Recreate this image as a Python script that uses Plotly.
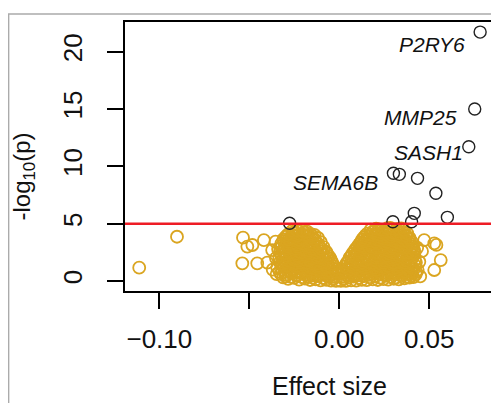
import plotly.graph_objects as go

# significant genes (black)
sig_x = [0.0783, 0.0753, 0.0720, 0.0301, 0.0334, 0.0435, 0.0537, 0.0417, 0.0402, 0.0298, 0.0601, -0.0276]
sig_y = [21.7, 15.0, 11.7, 9.39, 9.30, 8.95, 7.65, 5.9, 5.17, 5.17, 5.55, 5.03]
label_genes = ["P2RY6", "MMP25", "SASH1", "SEMA6B"]
label_idx = [0, 1, 2, 3]
label_shift = [(-13, -12), (-16, -9), (-4, -6), (-13, -9)]

# non-significant genes (gold)
ns_x = [
    -0.0312, -0.0284, -0.0251, -0.0223, -0.0190, -0.0162, -0.0131, -0.0104, -0.0072, -0.0046, -0.0018, 0.0009, 0.0037,
    0.0066, 0.0094, 0.0125, 0.0153, 0.0186, 0.0214, 0.0245, 0.0272, 0.0303, 0.0331, 0.0362, 0.0390, 0.0412,
    -0.0298, -0.0268, -0.0237, -0.0206, -0.0176, -0.0146, -0.0118, -0.0088, -0.0059, -0.0031, 0.0023, 0.0052,
    0.0080, 0.0110, 0.0139, 0.0170, 0.0200, 0.0229, 0.0259, 0.0289, 0.0317, 0.0347, 0.0376, 0.0401,
    -0.0325, -0.0297, -0.0266, -0.0238, -0.0207, -0.0176, -0.0148, -0.0117, -0.0089, -0.0058, -0.0030, 0.0021, 0.0050,
    0.0081, 0.0109, 0.0140, 0.0168, 0.0199, 0.0228, 0.0258, 0.0287, 0.0318, 0.0346, 0.0377, 0.0405, 0.0425,
    -0.0332, -0.0304, -0.0274, -0.0245, -0.0214, -0.0184, -0.0155, -0.0125, -0.0096, -0.0066, -0.0037, -0.0008, 0.0011,
    0.0040, 0.0072, 0.0101, 0.0133, 0.0162, 0.0192, 0.0221, 0.0251, 0.0280, 0.0311, 0.0340, 0.0369, 0.0398, 0.0428,
    -0.0318, -0.0289, -0.0259, -0.0230, -0.0199, -0.0170, -0.0140, -0.0111, -0.0081, -0.0052, -0.0022, 0.0024, 0.0057,
    0.0087, 0.0118, 0.0147, 0.0177, 0.0206, 0.0236, 0.0266, 0.0295, 0.0325, 0.0354, 0.0384, 0.0414,
    -0.0305, -0.0275, -0.0244, -0.0216, -0.0186, -0.0157, -0.0127, -0.0098, -0.0068, -0.0040, -0.0012, 0.0014, 0.0045,
    0.0075, 0.0105, 0.0134, 0.0165, 0.0194, 0.0225, 0.0254, 0.0283, 0.0314, 0.0344, 0.0372, 0.0403,
    -0.0322, -0.0293, -0.0262, -0.0234, -0.0203, -0.0174, -0.0145, -0.0115, -0.0086, -0.0057, -0.0027, 0.0033, 0.0063,
    0.0092, 0.0121, 0.0152, 0.0181, 0.0211, 0.0240, 0.0270, 0.0299, 0.0329, 0.0358, 0.0389, 0.0418,
    -0.0330, -0.0300, -0.0270, -0.0241, -0.0211, -0.0182, -0.0152, -0.0122, -0.0093, -0.0064, -0.0037, 0.0040, 0.0069,
    0.0098, 0.0128, 0.0158, 0.0187, 0.0217, 0.0247, 0.0276, 0.0306, 0.0336, 0.0365, 0.0394, 0.0426,
    -0.0315, -0.0286, -0.0256, -0.0227, -0.0196, -0.0167, -0.0137, -0.0108, -0.0078, -0.0043, 0.0048, 0.0076, 0.0104,
    0.0135, 0.0164, 0.0193, 0.0224, 0.0253, 0.0283, 0.0312, 0.0342, 0.0371, 0.0401, 0.0420,
    -0.0333, -0.0302, -0.0272, -0.0243, -0.0213, -0.0184, -0.0154, -0.0125, -0.0095, -0.0066, -0.0049, 0.0056, 0.0083,
    0.0112, 0.0142, 0.0171, 0.0201, 0.0230, 0.0260, 0.0290, 0.0319, 0.0349, 0.0378, 0.0407,
    -0.0320, -0.0290, -0.0261, -0.0231, -0.0202, -0.0172, -0.0143, -0.0113, -0.0084, -0.0056, 0.0064, 0.0090, 0.0119,
    0.0149, 0.0178, 0.0208, 0.0237, 0.0267, 0.0296, 0.0326, 0.0355, 0.0385, 0.0412,
    -0.0330, -0.0300, -0.0270, -0.0240, -0.0211, -0.0181, -0.0151, -0.0122, -0.0093, -0.0068, 0.0072, 0.0098, 0.0127,
    0.0156, 0.0186, 0.0215, 0.0245, 0.0274, 0.0304, 0.0333, 0.0363, 0.0392, 0.0418,
    -0.0314, -0.0284, -0.0255, -0.0225, -0.0196, -0.0166, -0.0137, -0.0107, -0.0072, 0.0082, 0.0106, 0.0134, 0.0163,
    0.0193, 0.0222, 0.0252, 0.0281, 0.0311, 0.0340, 0.0370, 0.0399, 0.0416,
    -0.0328, -0.0299, -0.0269, -0.0240, -0.0210, -0.0181, -0.0152, -0.0122, -0.0098, 0.0090, 0.0116, 0.0144, 0.0173,
    0.0203, 0.0232, 0.0262, 0.0291, 0.0321, 0.0350, 0.0379, 0.0405,
    -0.0318, -0.0288, -0.0259, -0.0229, -0.0200, -0.0170, -0.0141, -0.0112, -0.0087, 0.0101, 0.0123, 0.0151, 0.0180,
    0.0210, 0.0239, 0.0269, 0.0298, 0.0328, 0.0357, 0.0387, 0.0410,
    -0.0322, -0.0293, -0.0263, -0.0234, -0.0204, -0.0175, -0.0146, -0.0117, 0.0110, 0.0135, 0.0163, 0.0192, 0.0222,
    0.0251, 0.0281, 0.0310, 0.0340, 0.0369, 0.0398,
    -0.0310, -0.0281, -0.0251, -0.0222, -0.0192, -0.0163, -0.0133, -0.0102, 0.0119, 0.0146, 0.0175, 0.0205, 0.0234,
    0.0264, 0.0293, 0.0323, 0.0352, 0.0382, 0.0404,
    -0.0310, -0.0283, -0.0253, -0.0224, -0.0195, -0.0165, -0.0138, 0.0128, 0.0156, 0.0186, 0.0214, 0.0244, 0.0273,
    0.0303, 0.0332, 0.0361, 0.0388,
    -0.0298, -0.0268, -0.0239, -0.0209, -0.0180, -0.0150, -0.0118, 0.0136, 0.0165, 0.0199, 0.0229, 0.0258, 0.0288,
    0.0317, 0.0347, 0.0372, 0.0392,
    -0.0290, -0.0262, -0.0233, -0.0204, -0.0176, -0.0150, 0.0146, 0.0172, 0.0201, 0.0231, 0.0260, 0.0289, 0.0318,
    0.0346, 0.0372,
    -0.0281, -0.0252, -0.0222, -0.0193, -0.0160, -0.0138, 0.0156, 0.0185, 0.0214, 0.0243, 0.0272, 0.0300, 0.0329, 0.0356, 0.0378,
    -0.0250, -0.0225, -0.0192, 0.0190, 0.0220, 0.0252, 0.0284, 0.0316, 0.0345,
    -0.0262, -0.0236, -0.0206, -0.0178, 0.0175, 0.0205, 0.0236, 0.0268, 0.0300, 0.0332, 0.0360,
    -0.0345, -0.0352, -0.0340, -0.0348,
    -0.1112, -0.0902, -0.0535, -0.0511, -0.0539, -0.0483, -0.0419, -0.0456, -0.0373, -0.0354, -0.0400, -0.0370,
    0.0472, 0.0528, 0.0540, 0.0564, 0.0528, 0.0445, 0.0436, 0.0460, 0.0450, 0.0433,
]
ns_y = [
    0.32, 0.18, 0.27, 0.12, 0.21, 0.09, 0.15, 0.05, 0.11, 0.03, 0.02, 0.01, 0.02,
    0.06, 0.04, 0.10, 0.07, 0.14, 0.09, 0.16, 0.12, 0.20, 0.15, 0.24, 0.30, 0.35,
    0.41, 0.36, 0.44, 0.33, 0.39, 0.30, 0.42, 0.28, 0.35, 0.22, 0.20, 0.31,
    0.38, 0.27, 0.43, 0.34, 0.40, 0.29, 0.45, 0.37, 0.32, 0.42, 0.39, 0.46,
    0.62, 0.55, 0.68, 0.51, 0.64, 0.57, 0.49, 0.61, 0.53, 0.45, 0.38, 0.36, 0.47,
    0.56, 0.50, 0.63, 0.54, 0.66, 0.58, 0.52, 0.69, 0.60, 0.55, 0.65, 0.71, 0.58,
    0.82, 0.77, 0.86, 0.74, 0.80, 0.84, 0.76, 0.83, 0.79, 0.72, 0.66, 0.70, 0.68,
    0.73, 0.78, 0.85, 0.75, 0.81, 0.87, 0.79, 0.74, 0.83, 0.77, 0.86, 0.80, 0.84, 0.78,
    1.02, 0.95, 1.08, 0.91, 1.04, 0.97, 1.10, 0.93, 1.00, 0.88, 0.80, 0.82, 0.94,
    1.06, 0.98, 0.90, 1.05, 0.96, 1.09, 0.92, 1.03, 0.99, 1.07, 0.94, 1.01,
    1.22, 1.18, 1.25, 1.15, 1.21, 1.17, 1.26, 1.13, 1.20, 1.12, 1.06, 1.05, 1.11,
    1.19, 1.24, 1.16, 1.23, 1.14, 1.27, 1.19, 1.22, 1.17, 1.25, 1.20, 1.16,
    1.42, 1.35, 1.48, 1.31, 1.44, 1.37, 1.50, 1.33, 1.40, 1.29, 1.25, 1.27, 1.38,
    1.46, 1.34, 1.41, 1.49, 1.36, 1.45, 1.32, 1.43, 1.39, 1.47, 1.34, 1.40,
    1.63, 1.58, 1.66, 1.55, 1.61, 1.57, 1.68, 1.53, 1.60, 1.56, 1.52, 1.54, 1.62,
    1.67, 1.59, 1.65, 1.56, 1.64, 1.60, 1.69, 1.57, 1.63, 1.58, 1.66, 1.61,
    1.86, 1.79, 1.92, 1.75, 1.88, 1.81, 1.95, 1.77, 1.84, 1.72, 1.70, 1.83, 1.90,
    1.78, 1.87, 1.80, 1.93, 1.76, 1.89, 1.82, 1.91, 1.78, 1.85, 1.80,
    2.05, 1.99, 2.08, 1.97, 2.03, 2.10, 1.98, 2.06, 2.01, 2.04, 1.96, 1.99, 2.07,
    2.02, 2.09, 1.98, 2.05, 2.00, 2.11, 2.03, 1.97, 2.08, 2.02, 2.06,
    2.28, 2.21, 2.34, 2.17, 2.30, 2.23, 2.36, 2.19, 2.26, 2.12, 2.14, 2.25, 2.32,
    2.20, 2.29, 2.22, 2.35, 2.18, 2.31, 2.24, 2.33, 2.20, 2.27,
    2.47, 2.42, 2.50, 2.39, 2.45, 2.52, 2.40, 2.48, 2.43, 2.38, 2.37, 2.44, 2.51,
    2.41, 2.49, 2.46, 2.53, 2.40, 2.47, 2.43, 2.50, 2.45, 2.42,
    2.68, 2.61, 2.74, 2.57, 2.70, 2.63, 2.76, 2.59, 2.55, 2.58, 2.66, 2.73, 2.60,
    2.69, 2.62, 2.75, 2.58, 2.71, 2.64, 2.77, 2.60, 2.67,
    2.88, 2.82, 2.91, 2.79, 2.86, 2.93, 2.81, 2.89, 2.80, 2.79, 2.87, 2.92, 2.83,
    2.90, 2.85, 2.94, 2.81, 2.88, 2.84, 2.91, 2.86,
    3.08, 3.01, 3.14, 2.97, 3.10, 3.03, 3.16, 2.99, 2.95, 2.98, 3.06, 3.13, 3.00,
    3.09, 3.02, 3.15, 2.98, 3.11, 3.04, 3.12, 3.00,
    3.27, 3.21, 3.30, 3.18, 3.25, 3.32, 3.20, 3.24, 3.19, 3.26, 3.31, 3.22, 3.29,
    3.23, 3.33, 3.20, 3.28, 3.24, 3.26,
    3.48, 3.41, 3.54, 3.37, 3.50, 3.43, 3.56, 3.38, 3.36, 3.46, 3.53, 3.40, 3.49,
    3.42, 3.55, 3.38, 3.51, 3.44, 3.39,
    3.66, 3.61, 3.69, 3.58, 3.64, 3.70, 3.60, 3.62, 3.67, 3.72, 3.59, 3.68, 3.63,
    3.71, 3.60, 3.66, 3.62,
    3.84, 3.77, 3.90, 3.73, 3.86, 3.79, 3.75, 3.78, 3.86, 3.93, 3.80, 3.89, 3.82,
    3.95, 3.78, 3.88, 3.74,
    3.98, 4.03, 3.95, 4.06, 3.99, 3.93, 3.97, 4.05, 4.09, 4.01, 4.12, 4.04, 4.10,
    4.02, 3.96,
    4.12, 4.20, 4.08, 4.22, 4.10, 4.02, 4.14, 4.24, 4.31, 4.18, 4.27, 4.21, 4.33, 4.25, 4.15,
    4.28, 4.35, 4.25, 4.36, 4.50, 4.43, 4.62, 4.49, 4.58,
    4.38, 4.42, 4.40, 4.30, 4.48, 4.56, 4.45, 4.60, 4.52, 4.55, 4.44,
    1.2, 2.0, 2.8, 0.6,
    1.16, 3.86, 3.78, 3.00, 1.54, 3.14, 3.57, 1.54, 2.70, 3.43, 1.60, 1.00,
    3.57, 3.29, 3.15, 1.83, 0.96, 1.68, 0.96, 2.60, 0.40, 2.90,
]

x_tickvals = [-0.10, 0.00, 0.05]
x_ticktext = ["\u22120.10", "0.00", "0.05"]
x_unlabelled_ticks = [-0.05]
y_tickvals = [0, 5, 10, 15, 20]
threshold = 5

GOLD = "#DAA520"
FONT = "Liberation Sans, Arial, sans-serif"

fig = go.Figure()
fig.add_trace(go.Scatter(
    x=ns_x, y=ns_y, mode="markers",
    marker=dict(symbol="circle-open", size=12, color=GOLD, line=dict(width=1.8, color=GOLD)),
    hoverinfo="skip", showlegend=False,
))
fig.add_trace(go.Scatter(
    x=sig_x, y=sig_y, mode="markers",
    marker=dict(symbol="circle-open", size=12, color="#222222", line=dict(width=1.4, color="#222222")),
    hoverinfo="skip", showlegend=False,
))

for g, i, (dx, dy) in zip(label_genes, label_idx, label_shift):
    fig.add_annotation(
        x=sig_x[i], y=sig_y[i], text="<i>" + g + "</i>", showarrow=False,
        xanchor="right", yanchor="middle", xshift=dx, yshift=dy,
        font=dict(family=FONT, size=21, color="#111111"),
    )

# threshold line
fig.add_shape(type="line", xref="paper", x0=0, x1=1, yref="y", y0=threshold, y1=threshold,
              line=dict(color="#EE1C25", width=2.5), layer="above")

# outer grey frame
fig.add_shape(type="path", xref="paper", yref="paper",
              path="M -0.3171 -0.45 L -0.3171 1.0297 L 1.05 1.0297",
              line=dict(color="#ABABAB", width=1.5))

fig.add_annotation(text="Effect size", xref="paper", yref="paper", x=0.556, y=-0.353,
                   showarrow=False, xanchor="center", yanchor="middle",
                   font=dict(family=FONT, size=25, color="#111111"))
fig.add_annotation(text="-log<sub>10</sub>(p)", xref="paper", yref="paper", x=-0.2764, y=0.424,
                   showarrow=False, xanchor="center", yanchor="middle", textangle=-90,
                   font=dict(family=FONT, size=24, color="#111111"))

fig.update_xaxes(
    range=[-0.1191, 0.0849], tickvals=x_tickvals, ticktext=x_ticktext,
    showgrid=False, zeroline=False, showline=True, mirror=True, linecolor="black", linewidth=2,
    ticks="outside", ticklen=16, tickwidth=2, tickcolor="black",
    minor=dict(tickvals=x_unlabelled_ticks, ticks="outside", ticklen=16, tickwidth=2, tickcolor="black", showgrid=False),
    tickfont=dict(family=FONT, size=26, color="#111111"), ticklabelstandoff=8,
)
fig.update_yaxes(
    range=[-0.87, 22.58], tickvals=y_tickvals, ticktext=[str(v) for v in y_tickvals],
    showgrid=False, zeroline=False, showline=True, mirror=True, linecolor="black", linewidth=2,
    ticks="outside", ticklen=16, tickwidth=2, tickcolor="black", tickangle=-90,
    tickfont=dict(family=FONT, size=26, color="#111111"), ticklabelstandoff=15,
)
fig.update_layout(
    width=491, height=395, margin=dict(l=117, r=5, t=14, b=112),
    paper_bgcolor="white", plot_bgcolor="white", showlegend=False,
)
fig.write_html("out.html")
